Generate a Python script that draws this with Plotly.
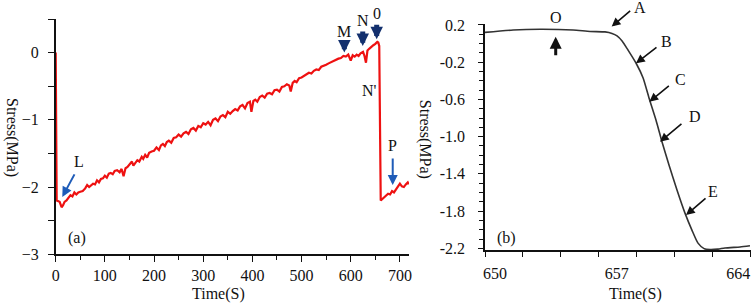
import plotly.graph_objects as go

# ---------------- data: panel (a) ----------------
time_a = [0, 2, 8, 12, 15, 18, 22, 26, 30, 34, 38, 42, 46, 50, 55, 60, 64, 68, 72, 76,
          80, 84, 88, 92, 96, 100, 104, 108, 112, 116, 120, 125, 130, 134, 138, 142, 146, 150,
          155, 158, 162, 166, 170, 175, 178, 182, 186, 190, 195, 200, 205, 210, 214, 218, 222,
          226, 230, 235, 240, 245, 250, 255, 260, 265, 270, 275, 280, 285, 290, 295, 300, 305,
          310, 315, 320, 325, 330, 335, 340, 345, 350, 355, 360, 365, 370, 375, 380, 385, 390,
          395, 398, 402, 406, 410, 415, 420, 425, 430, 435, 440, 445, 450, 455, 460, 465, 470,
          475, 478, 482, 486, 490, 495, 500, 505, 510, 515, 520, 525, 530, 535, 540, 545, 550,
          555, 560, 565, 570, 575, 580, 585, 590, 595, 600, 604, 608, 612, 616, 620, 625, 628,
          631, 634, 638, 642, 646, 650, 654, 656, 658, 661, 664, 668, 672, 676, 680, 684, 688,
          692, 696, 700, 704, 708, 712, 716, 718]
stress_a = [0.0, -2.2, -2.22, -2.3, -2.27, -2.22, -2.2, -2.16, -2.12, -2.14, -2.08, -2.11, -2.08,
            -2.07, -2.06, -2.02, -1.97, -2.0, -1.98, -1.95, -1.96, -1.90, -1.93, -1.88, -1.87,
            -1.83, -1.86, -1.80, -1.79, -1.81, -1.76, -1.75, -1.78, -1.73, -1.84, -1.72, -1.70,
            -1.67, -1.62, -1.68, -1.63, -1.60, -1.62, -1.55, -1.58, -1.52, -1.56, -1.49, -1.47,
            -1.46, -1.41, -1.45, -1.38, -1.36, -1.39, -1.33, -1.31, -1.34, -1.27, -1.26, -1.22,
            -1.25, -1.20, -1.18, -1.21, -1.14, -1.12, -1.16, -1.09, -1.11, -1.05, -1.07, -1.03,
            -1.08, -1.00, -0.98, -1.02, -0.95, -0.93, -0.96, -0.88, -0.91, -0.87, -0.84, -0.86,
            -0.80, -0.78, -0.83, -0.75, -0.73, -0.88, -0.72, -0.70, -0.73, -0.66, -0.64, -0.67,
            -0.61, -0.60, -0.62, -0.56, -0.55, -0.58, -0.51, -0.50, -0.47, -0.49, -0.58, -0.45,
            -0.42, -0.44, -0.38, -0.37, -0.35, -0.33, -0.30, -0.31, -0.27, -0.25, -0.26, -0.21,
            -0.20, -0.18, -0.16, -0.14, -0.13, -0.11, -0.09, -0.08, -0.05, -0.06, -0.03, -0.12,
            -0.04, -0.06, -0.03, -0.05, -0.01, 0.01, -0.05, -0.15, 0.03, 0.06, 0.09, 0.11, 0.13,
            0.16, 0.15, 0.10, -2.20, -2.18, -2.15, -2.13, -2.10, -2.11, -2.06, -2.08, -2.03,
            -1.98, -1.95, -1.99, -2.00, -1.96, -1.93, -1.96]

# ---------------- data: panel (b) ----------------
time_b = [649.42, 651.04, 652.59, 654.49, 655.47, 656.33, 656.73, 657.02, 657.31, 657.65,
          658.11, 658.52, 658.86, 659.26, 659.61, 660.01, 660.47, 660.93, 661.33, 661.68,
          662.03, 662.37, 662.83, 663.23, 664.10, 664.67]
stress_b = [0.12, 0.146, 0.154, 0.146, 0.130, 0.125, 0.109, 0.082, 0.028, -0.069,
            -0.209, -0.370, -0.585, -0.822, -1.058, -1.305, -1.574, -1.822, -2.004, -2.144,
            -2.203, -2.214, -2.209, -2.196, -2.185, -2.173]

ticks_a_y = [-3, -2, -1, 0]
ticks_a_x = [0, 100, 200, 300, 400, 500, 600, 700]
ticks_b_y = [0.2, -0.2, -0.6, -1.0, -1.4, -1.8, -2.2]
ticks_b_x = [650, 657, 664]

FONT = "Liberation Serif"
NAVY = "#13306e"
BLUE = "#1f5cb8"

fig = go.Figure()
fig.add_trace(go.Scatter(x=time_a, y=stress_a, mode="lines",
                         line=dict(color="#ee1111", width=2.2), xaxis="x", yaxis="y",
                         showlegend=False))
fig.add_trace(go.Scatter(x=time_b, y=stress_b, mode="lines", line_shape="spline",
                         line=dict(color="#333333", width=1.6, smoothing=0.6),
                         xaxis="x2", yaxis="y2", showlegend=False))

W, H = 754, 303
axcommon = dict(showgrid=False, zeroline=False, showline=True, linecolor="#111111",
                linewidth=1.6, ticks="outside", tickcolor="#111111", tickwidth=1.4,
                automargin=False, tickfont=dict(family=FONT, size=16, color="#111111"))

fig.update_layout(
    width=W, height=H, template="none",
    margin=dict(l=0, r=0, t=0, b=0),
    plot_bgcolor="white", paper_bgcolor="white",
    font=dict(family=FONT, size=16, color="#111111"),
    xaxis=dict(domain=[55.7 / W, 409 / W], range=[0, 718.5], anchor="y",
               tickmode="array", tickvals=ticks_a_x, ticklen=6,
               minor=dict(dtick=50, tick0=0, ticks="outside", ticklen=4, tickcolor="#111111"),
               ticklabelstandoff=0, **axcommon),
    yaxis=dict(domain=[1 - 254.3 / H, 1 - 19 / H], range=[-3, 0.5], anchor="x",
               tickmode="array", tickvals=ticks_a_y, ticklen=6,
               minor=dict(dtick=0.5, tick0=0, ticks="outside", ticklen=6, tickcolor="#111111"),
               ticklabelstandoff=6, **axcommon),
    xaxis2=dict(domain=[485 / W, 751 / W], range=[649.42, 664.73], anchor="y2",
                tickmode="array", tickvals=ticks_b_x, ticklen=0,
                minor=dict(dtick=2.186, tick0=649.42, ticks="outside", ticklen=5,
                           tickcolor="#111111"),
                ticklabelstandoff=8, **axcommon),
    yaxis2=dict(domain=[1 - 250 / H, 1 - 24 / H], range=[-2.218, 0.21], anchor="x2",
                tickmode="array", tickvals=ticks_b_y, ticktext=[f"{v:.1f}" for v in ticks_b_y],
                ticklen=5,
                minor=dict(dtick=0.1, tick0=0.2, ticks="outside", ticklen=4, tickcolor="#111111"),
                ticklabelstandoff=10, **axcommon),
)

ann = []
def txt(px, py, s, size=16, angle=0, color="#111111"):
    # text placed in paper coordinates, from a pixel position of the figure
    ann.append(dict(x=px / W, y=1 - py / H, xref="paper", yref="paper", text=s,
                    showarrow=False, textangle=angle, xanchor="center", yanchor="middle",
                    font=dict(family=FONT, size=size, color=color)))

def arr(x, y, ax, ay, xr="x", yr="y", color="#111111", width=1.5, size=1.0, head=2):
    ann.append(dict(x=x, y=y, xref=xr, yref=yr, text="", showarrow=True, ax=ax, ay=ay,
                    axref="pixel", ayref="pixel", arrowcolor=color, arrowwidth=width,
                    arrowsize=size, arrowhead=head, standoff=0, startstandoff=0))

# axis titles
txt(12, 137, "Stress(MPa)", angle=90)
txt(425.7, 139.5, "Stress(MPa)", angle=90)
txt(218.3, 294, "Time(S)")
txt(635, 294, "Time(S)")

# panel (a) labels
txt(344.3, 31.7, "M")
arr(587, 0.0, 0, -12, color=NAVY, width=5, size=0.5)
txt(362.7, 20.7, "N")
arr(624.4, 0.10, 0, -16, color=NAVY, width=5, size=0.5)
txt(376.7, 13.3, "0")
arr(652.8, 0.20, 0, -16, color=NAVY, width=5, size=0.5)
txt(369, 90, "N'")
txt(79, 161.7, "L")
arr(13.4, -2.146, 13, -24, color=BLUE, width=2, size=1.0)
txt(392.7, 145, "P")
arr(685.4, -1.97, 0, -28, color=BLUE, width=2, size=1.0)
txt(77.3, 238.3, "(a)")

# panel (b) labels
txt(555.7, 17.7, "O")
arr(653.49, 0.074, 0, 20, "x2", "y2", width=3, size=0.8)
txt(640, 7.3, "A")
arr(656.71, 0.182, 20, -17, "x2", "y2", width=1.6, size=1.1)
txt(666.7, 41.7, "B")
arr(658.11, -0.212, 22, -17, "x2", "y2", width=1.6, size=1.1)
txt(680, 80, "C")
arr(658.88, -0.625, 21, -17, "x2", "y2", width=1.6, size=1.1)
txt(695, 116.7, "D")
arr(659.49, -1.055, 23, -19, "x2", "y2", width=1.6, size=1.1)
txt(713.3, 191.7, "E")
arr(660.99, -1.843, 21, -18, "x2", "y2", width=1.6, size=1.1)
txt(506, 238.3, "(b)")

fig.update_layout(annotations=ann)
fig.write_html("out.html", config={"displayModeBar": False},
               post_script="document.body.style.margin='0';document.body.style.overflow='hidden';")
